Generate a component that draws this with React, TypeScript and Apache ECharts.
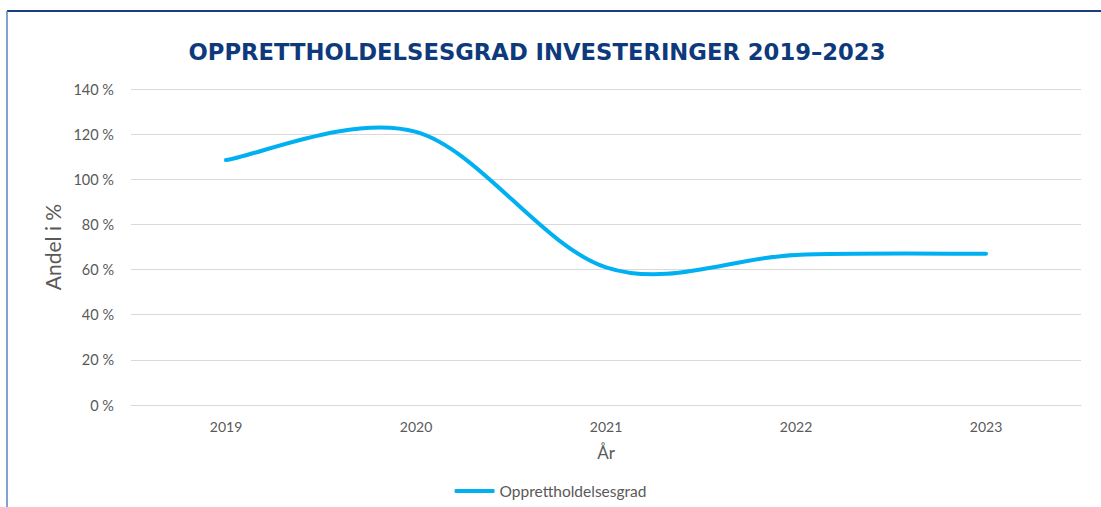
import React, { useEffect, useRef } from "react";
import * as echarts from "echarts";

const years = ["2019", "2020", "2021", "2022", "2023"];
const rates = [108.5, 121, 61, 66.5, 67];
const seriesName = "Opprettholdelsesgrad";
const titleText = "OPPRETTHOLDELSESGRAD INVESTERINGER 2019–2023";

export default function App() {
  const ref = useRef<HTMLDivElement>(null);
  useEffect(() => {
    const chart = echarts.init(ref.current!, undefined, { renderer: "svg" });
    const font = "Lato, 'Open Sans', sans-serif";
    const lineColor = "#00b0f0";
    chart.setOption({
      animation: false,
      backgroundColor: "#ffffff",
      title: {
        text: titleText,
        left: 532,
        top: 35,
        textAlign: "center",
        textStyle: { color: "#0e3a7c", fontSize: 22.7, fontWeight: "bold", fontFamily: "'DejaVu Sans', sans-serif" },
      },
      legend: {
        data: [{ name: seriesName, icon: "roundRect" }],
        bottom: 3,
        left: "center",
        itemWidth: 40,
        itemHeight: 4,
        itemGap: 8,
        textStyle: { color: "#595959", fontSize: 15.5, fontFamily: font },
      },
      grid: { left: 131, right: 20, top: 89, bottom: 102 },
      xAxis: {
        type: "category",
        data: years,
        boundaryGap: true,
        name: "År",
        nameLocation: "middle",
        nameGap: 39,
        nameTextStyle: { color: "#595959", fontSize: 17, fontFamily: font },
        axisLine: { show: true, lineStyle: { color: "#d9d9d9" } },
        axisTick: { show: false },
        axisLabel: { color: "#595959", fontSize: 14, fontFamily: font, margin: 14 },
      },
      yAxis: {
        type: "value",
        min: 0,
        max: 140,
        interval: 20,
        name: "Andel i %",
        nameLocation: "middle",
        nameGap: 65,
        nameTextStyle: { color: "#595959", fontSize: 21, fontFamily: font },
        axisLine: { show: false },
        axisTick: { show: false },
        axisLabel: { color: "#595959", fontSize: 14.5, fontFamily: font, margin: 17, formatter: "{value} %" },
        splitLine: { lineStyle: { color: "#d9d9d9", width: 1 } },
      },
      series: [
        {
          name: seriesName,
          type: "custom",
          data: rates.map((v, i) => [i, v]),
          encode: { x: 0, y: 1 },
          itemStyle: { color: lineColor },
          renderItem: (params: any, api: any) => {
            if (params.dataIndex !== 0) return null;
            const pts = rates.map((v, i) => api.coord([i, v]));
            const n = pts.length;
            let d = `M${pts[0][0]},${pts[0][1]}`;
            for (let i = 0; i < n - 1; i++) {
              const p0 = pts[Math.max(i - 1, 0)];
              const p1 = pts[i];
              const p2 = pts[i + 1];
              const p3 = pts[Math.min(i + 2, n - 1)];
              const c1x = p1[0] + (p2[0] - p0[0]) / 6;
              const c1y = p1[1] + (p2[1] - p0[1]) / 6;
              const c2x = p2[0] - (p3[0] - p1[0]) / 6;
              const c2y = p2[1] - (p3[1] - p1[1]) / 6;
              d += ` C${c1x},${c1y} ${c2x},${c2y} ${p2[0]},${p2[1]}`;
            }
            return {
              type: "path",
              shape: { pathData: d },
              style: { stroke: lineColor, lineWidth: 4, fill: "none", lineCap: "round", lineJoin: "round" },
            };
          },
        },
      ],
      graphic: [
        { type: "line", shape: { x1: 7, y1: 11, x2: 1101, y2: 11 }, style: { stroke: "#1a3e7c", lineWidth: 2 } },
        { type: "line", shape: { x1: 7, y1: 11, x2: 7, y2: 507 }, style: { stroke: "#5a82c4", lineWidth: 1.5 } },
      ],
    });
    return () => chart.dispose();
  }, []);
  return <div ref={ref} style={{ position: "absolute", left: 0, top: 0, width: 1101, height: 507 }} />;
}
